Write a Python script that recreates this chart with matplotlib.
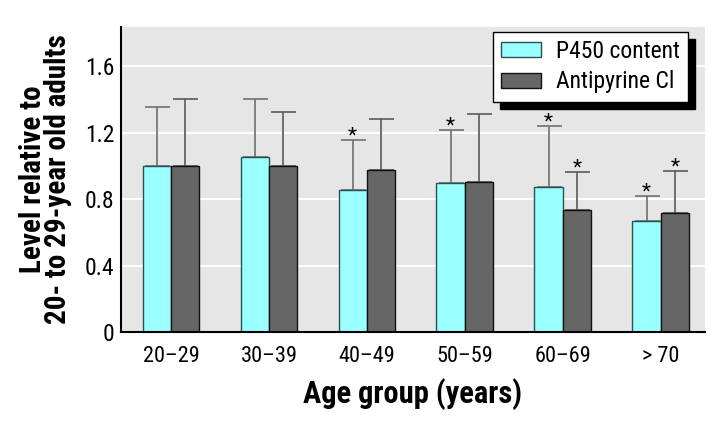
import numpy as np
import matplotlib
matplotlib.use('Agg')
import matplotlib.pyplot as plt
from matplotlib.patches import Rectangle
from matplotlib import font_manager
from matplotlib.transforms import IdentityTransform

# pick a narrow font if one is installed
names = {f.name for f in font_manager.fontManager.ttflist}
font = 'Roboto'
for cand in ['Liberation Sans Narrow', 'Roboto Condensed', 'DejaVu Sans Condensed', 'Open Sans Condensed']:
    if cand in names:
        font = cand
        break
plt.rcParams['font.family'] = [font, 'DejaVu Sans']

groups = ['20\u201329', '30\u201339', '40\u201349', '50\u201359', '60\u201369', '> 70']
p450 = [1.00, 1.055, 0.852, 0.894, 0.874, 0.666]
p450_top = [1.355, 1.403, 1.155, 1.213, 1.239, 0.816]
anti = [1.00, 1.00, 0.974, 0.904, 0.732, 0.716]
anti_top = [1.40, 1.327, 1.281, 1.311, 0.961, 0.966]
p450_sig = [False, False, True, True, True, True]
anti_sig = [False, False, False, False, True, True]

fig = plt.figure(figsize=(7.23, 4.30), dpi=100)
ax = fig.add_axes([0.1674, 0.2279, 0.8076, 0.7091])
ax.set_facecolor('#e6e6e6')

x = np.arange(len(groups))
w = 0.29
for yv in [0.4, 0.8, 1.2, 1.6]:
    ax.axhline(yv, color='white', lw=1.5, zorder=0)

ax.bar(x - w/2, p450, w, color='#99ffff', edgecolor='#2a5050', lw=1, zorder=2, label='P450 content')
ax.bar(x + w/2, anti, w, color='#666666', edgecolor='#111111', lw=1, zorder=2, label='Antipyrine Cl')

up1 = np.array(p450_top) - np.array(p450)
up2 = np.array(anti_top) - np.array(anti)
ax.errorbar(x - w/2, p450, yerr=[np.zeros(6), up1], fmt='none', ecolor='#707070',
            elinewidth=1.2, capsize=9, capthick=1.2, zorder=1)
ax.errorbar(x + w/2, anti, yerr=[np.zeros(6), up2], fmt='none', ecolor='#5a5a5a',
            elinewidth=1.2, capsize=9, capthick=1.2, zorder=1)

for i in range(len(groups)):
    if p450_sig[i]:
        ax.annotate('*', (x[i] - w/2, p450_top[i]), xytext=(0, -4), textcoords='offset points',
                    ha='center', va='bottom', fontsize=15)
    if anti_sig[i]:
        ax.annotate('*', (x[i] + w/2, anti_top[i]), xytext=(0, -4), textcoords='offset points',
                    ha='center', va='bottom', fontsize=15)

ax.set_xlim(-0.51, 5.45)
ax.set_ylim(0, 1.835)
ax.set_xticks(x)
ax.set_xticklabels(groups, fontsize=16)
ax.set_yticks([0, 0.4, 0.8, 1.2, 1.6])
ax.set_yticklabels(['0', '0.4', '0.8', '1.2', '1.6'], fontsize=17)
ax.tick_params(axis='x', length=0, pad=10)
ax.tick_params(axis='y', length=0, pad=5)
for s in ['top', 'right']:
    ax.spines[s].set_visible(False)
ax.spines['left'].set_linewidth(1.5)
ax.spines['bottom'].set_linewidth(1.5)

ax.set_xlabel('Age group (years)', fontsize=22, fontweight='bold', labelpad=8)
ax.set_ylabel('Level relative to\n20- to 29-year old adults', fontsize=21,
              fontweight='bold', linespacing=0.85, labelpad=9)

# legend with drop shadow
leg = ax.legend(loc='upper left', bbox_to_anchor=(493 / 723, 1 - 32 / 430), bbox_transform=fig.transFigure,
                fontsize=17, frameon=True, fancybox=False, framealpha=1, edgecolor='black',
                handlelength=1.7, handleheight=0.6, borderpad=0.35, labelspacing=0.3,
                handletextpad=0.6, borderaxespad=0)
leg.get_frame().set_linewidth(1)
leg.set_zorder(10)
fig.canvas.draw()
bb = leg.get_window_extent()
ax.add_patch(Rectangle((bb.x0 + 7, bb.y0 - 7), bb.width, bb.height, transform=IdentityTransform(),
                       facecolor='black', edgecolor='black', zorder=9, clip_on=False))

fig.savefig('out.png', dpi=100, facecolor='white')
